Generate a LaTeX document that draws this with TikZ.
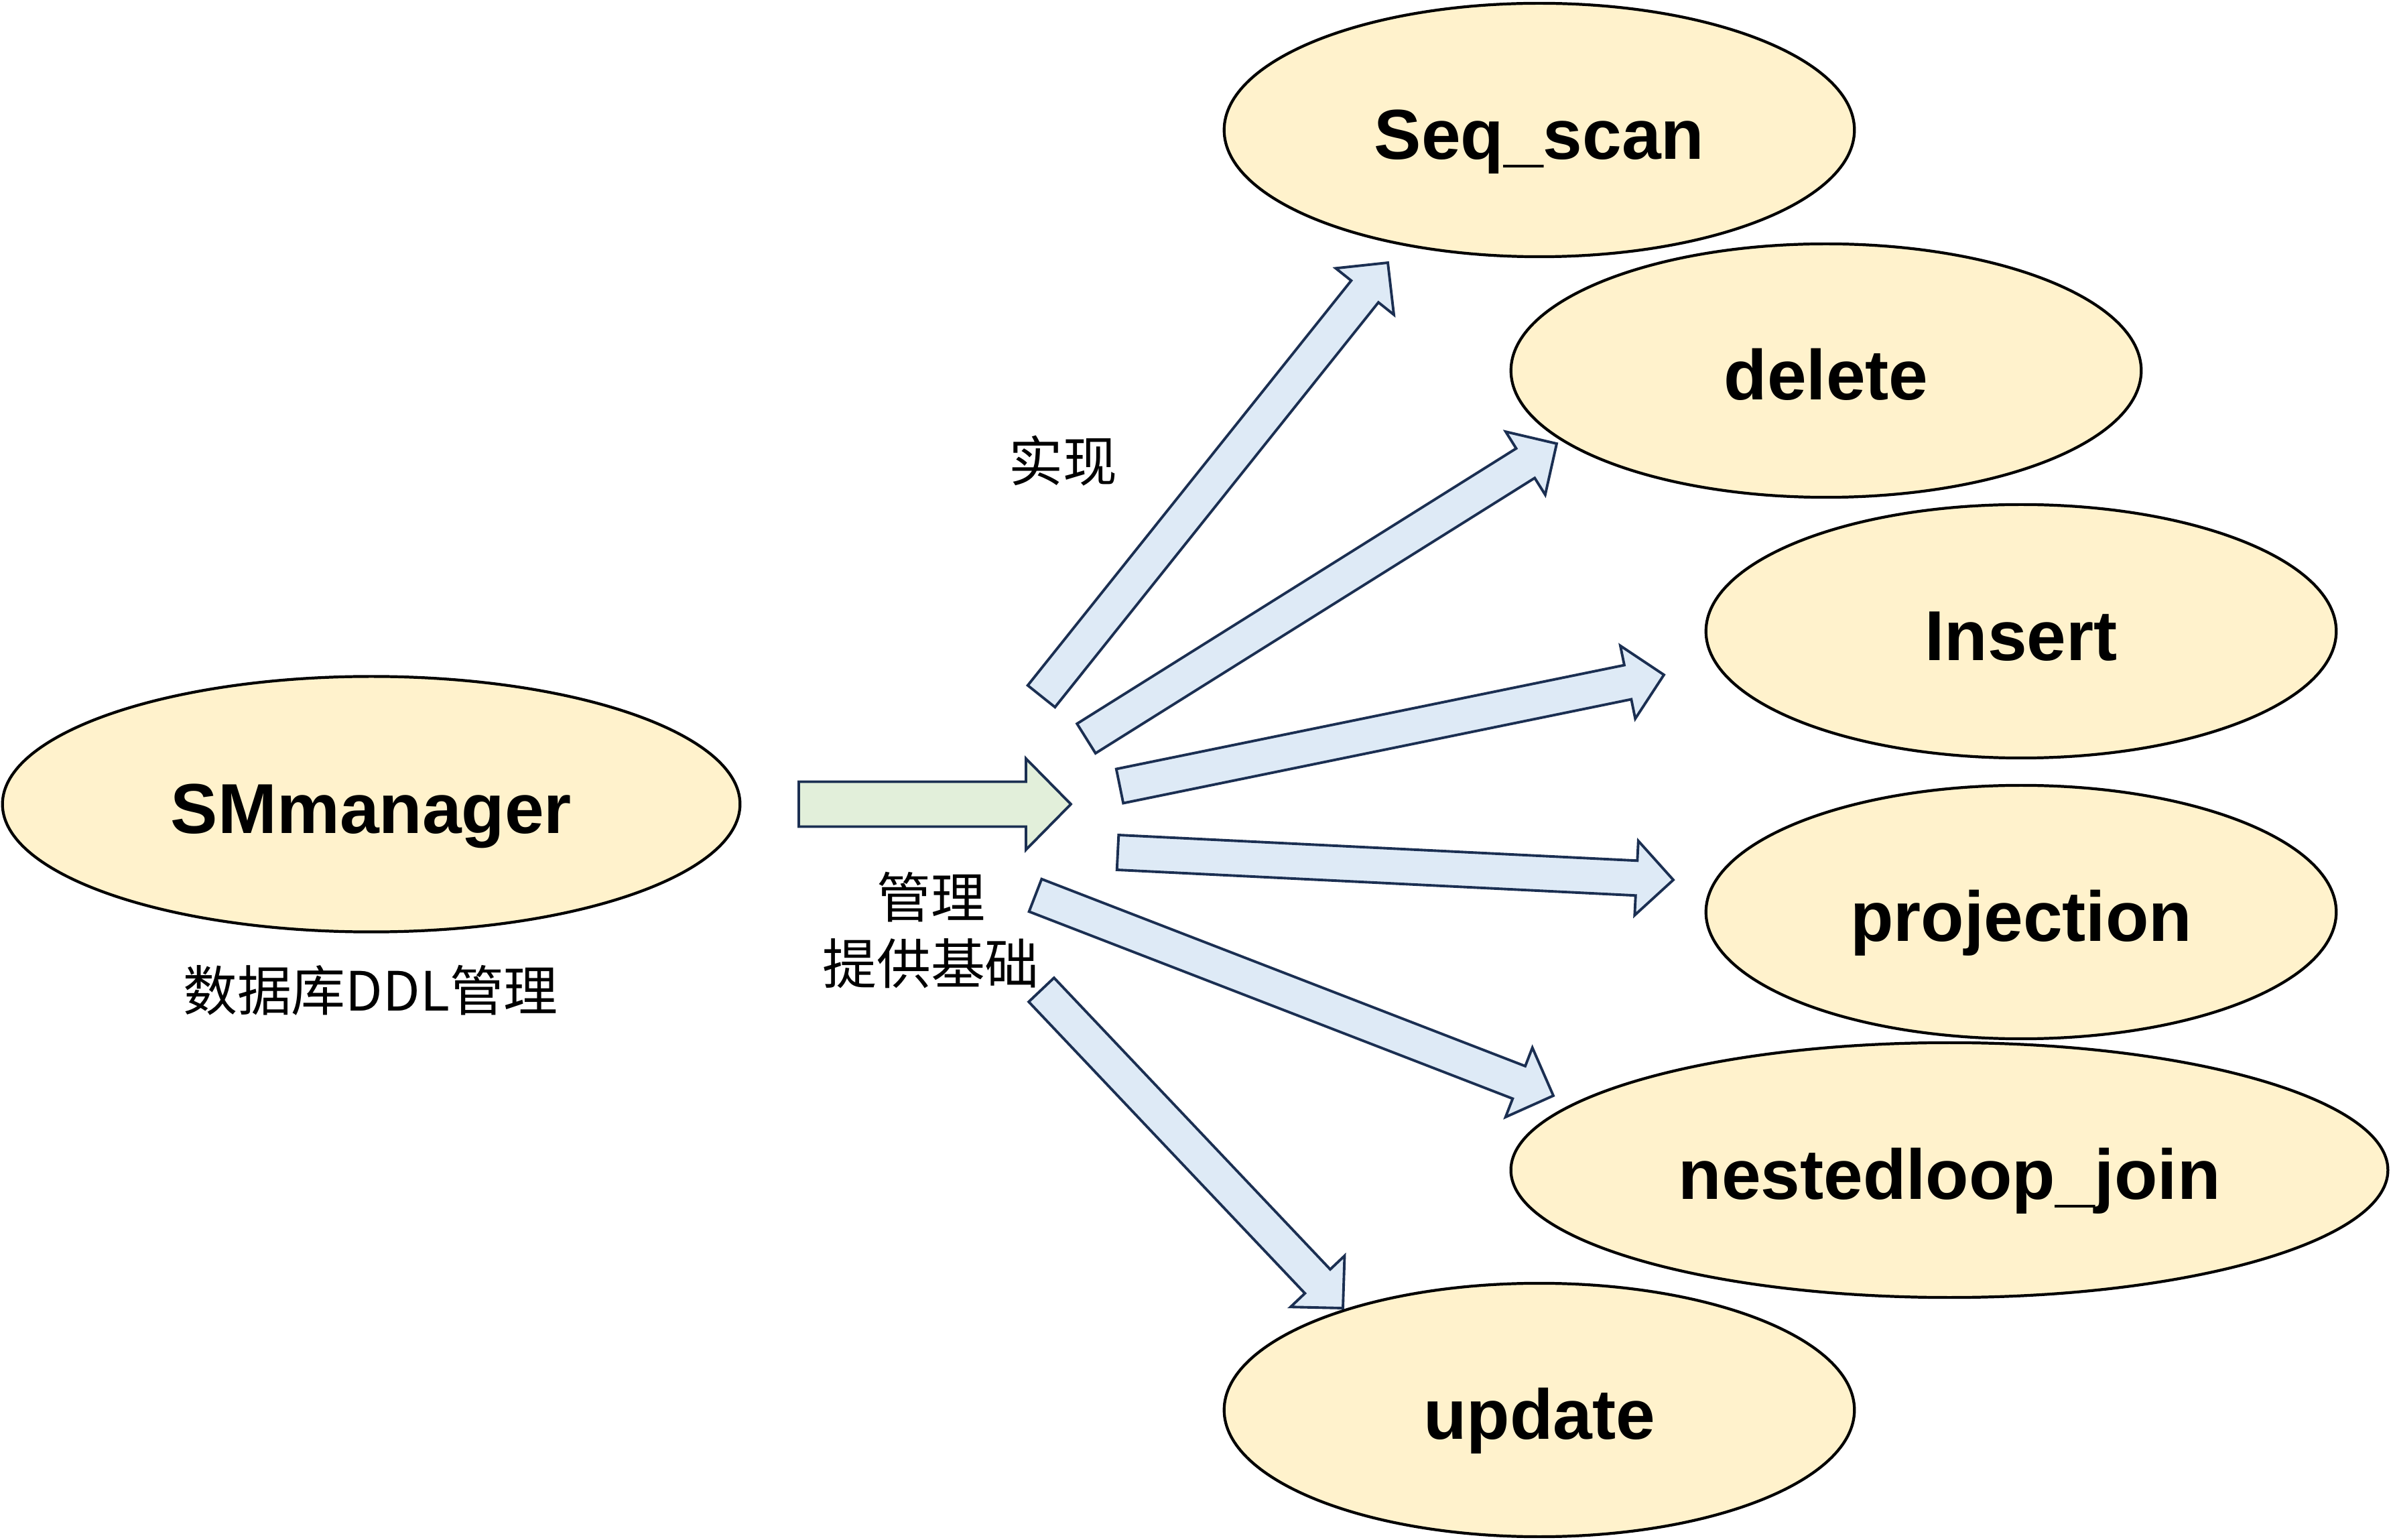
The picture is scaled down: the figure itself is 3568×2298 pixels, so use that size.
\documentclass[tikz,border=0pt]{standalone}
\usepackage{fontspec}
\setmainfont{Noto Sans CJK SC}
\newfontfamily\arialfont{Liberation Sans}
\usetikzlibrary{shapes.geometric,calc}
\definecolor{ovalfill}{HTML}{FFF2CC}
\definecolor{bluefill}{HTML}{DEEAF6}
\definecolor{greenfill}{HTML}{E2EFDA}
\definecolor{navy}{HTML}{1B2F52}
\newcommand\blockarrow[6]{%
  \coordinate (ab) at ($(#3)!#6!(#2)$);
  \draw[#1] ($(#2)!#4!90:(#3)$) -- ($(ab)!#4!90:(#3)$) -- ($(ab)!#5!90:(#3)$) -- (#3)
    -- ($(ab)!#5!-90:(#3)$) -- ($(ab)!#4!-90:(#3)$) -- ($(#2)!#4!-90:(#3)$) -- cycle;
}
\tikzset{
  oval/.style={ellipse, draw=black, line width=1.2pt, fill=ovalfill, inner sep=0pt,
    minimum width=9.4cm, minimum height=3.78cm, text height=31pt, text depth=6pt,
    font=\fontsize{30}{36}\selectfont\arialfont\bfseries},
  lab/.style={inner sep=0pt, align=center, font=\fontsize{23}{28.2}\selectfont},
  barrow/.style={draw=navy, fill=bluefill, line width=1.1pt, line join=miter},
  garrow/.style={draw=navy, fill=greenfill, line width=1.1pt, line join=miter},
}
\begin{document}
\begin{tikzpicture}[x=0.01cm, y=-0.01cm]
\useasboundingbox (0,0) rectangle (3568,2298);
% ovals
\node[oval, minimum width=11.0cm, minimum height=3.81cm] (sm) at (554,1200) {SMmanager};
\node[oval] (seq) at (2297,194) {Seq\_scan};
\node[oval] (del) at (2725,553) {delete};
\node[oval] (ins) at (3016,942) {Insert};
\node[oval] (proj) at (3016,1361) {projection};
\node[oval, minimum width=13.08cm, minimum height=3.8cm] (nlj) at (2909,1746) {nestedloop\_join};
\node[oval] (upd) at (2297,2104) {update};
% labels
\node[lab] (ddl) at (553,1478) {数据库DDL管理};
\node[lab] (impl) at (1586,688) {实现};
\node[lab] (mgr) at (1389,1388) {管理\\提供基础};
% green arrow
\coordinate (g0) at (1192,1200);
\coordinate (g1) at (1598,1200);
\blockarrow{garrow}{g0}{g1}{0.335cm}{0.68cm}{0.67cm}
% blue arrows
\coordinate (t1) at (1554,1039); \coordinate (p1) at (2071,392);
\coordinate (t2) at (1621,1102); \coordinate (p2) at (2323,662);
\coordinate (t3) at (1671,1173); \coordinate (p3) at (2483,1007);
\coordinate (t4) at (1668,1272); \coordinate (p4) at (2497,1313);
\coordinate (t5) at (1545,1336); \coordinate (p5) at (2318,1635);
\coordinate (t6) at (1554,1477); \coordinate (p6) at (2004,1952);
\foreach \i in {1,...,6}{\blockarrow{barrow}{t\i}{p\i}{0.26cm}{0.555cm}{0.55cm}}
\end{tikzpicture}
\end{document}
